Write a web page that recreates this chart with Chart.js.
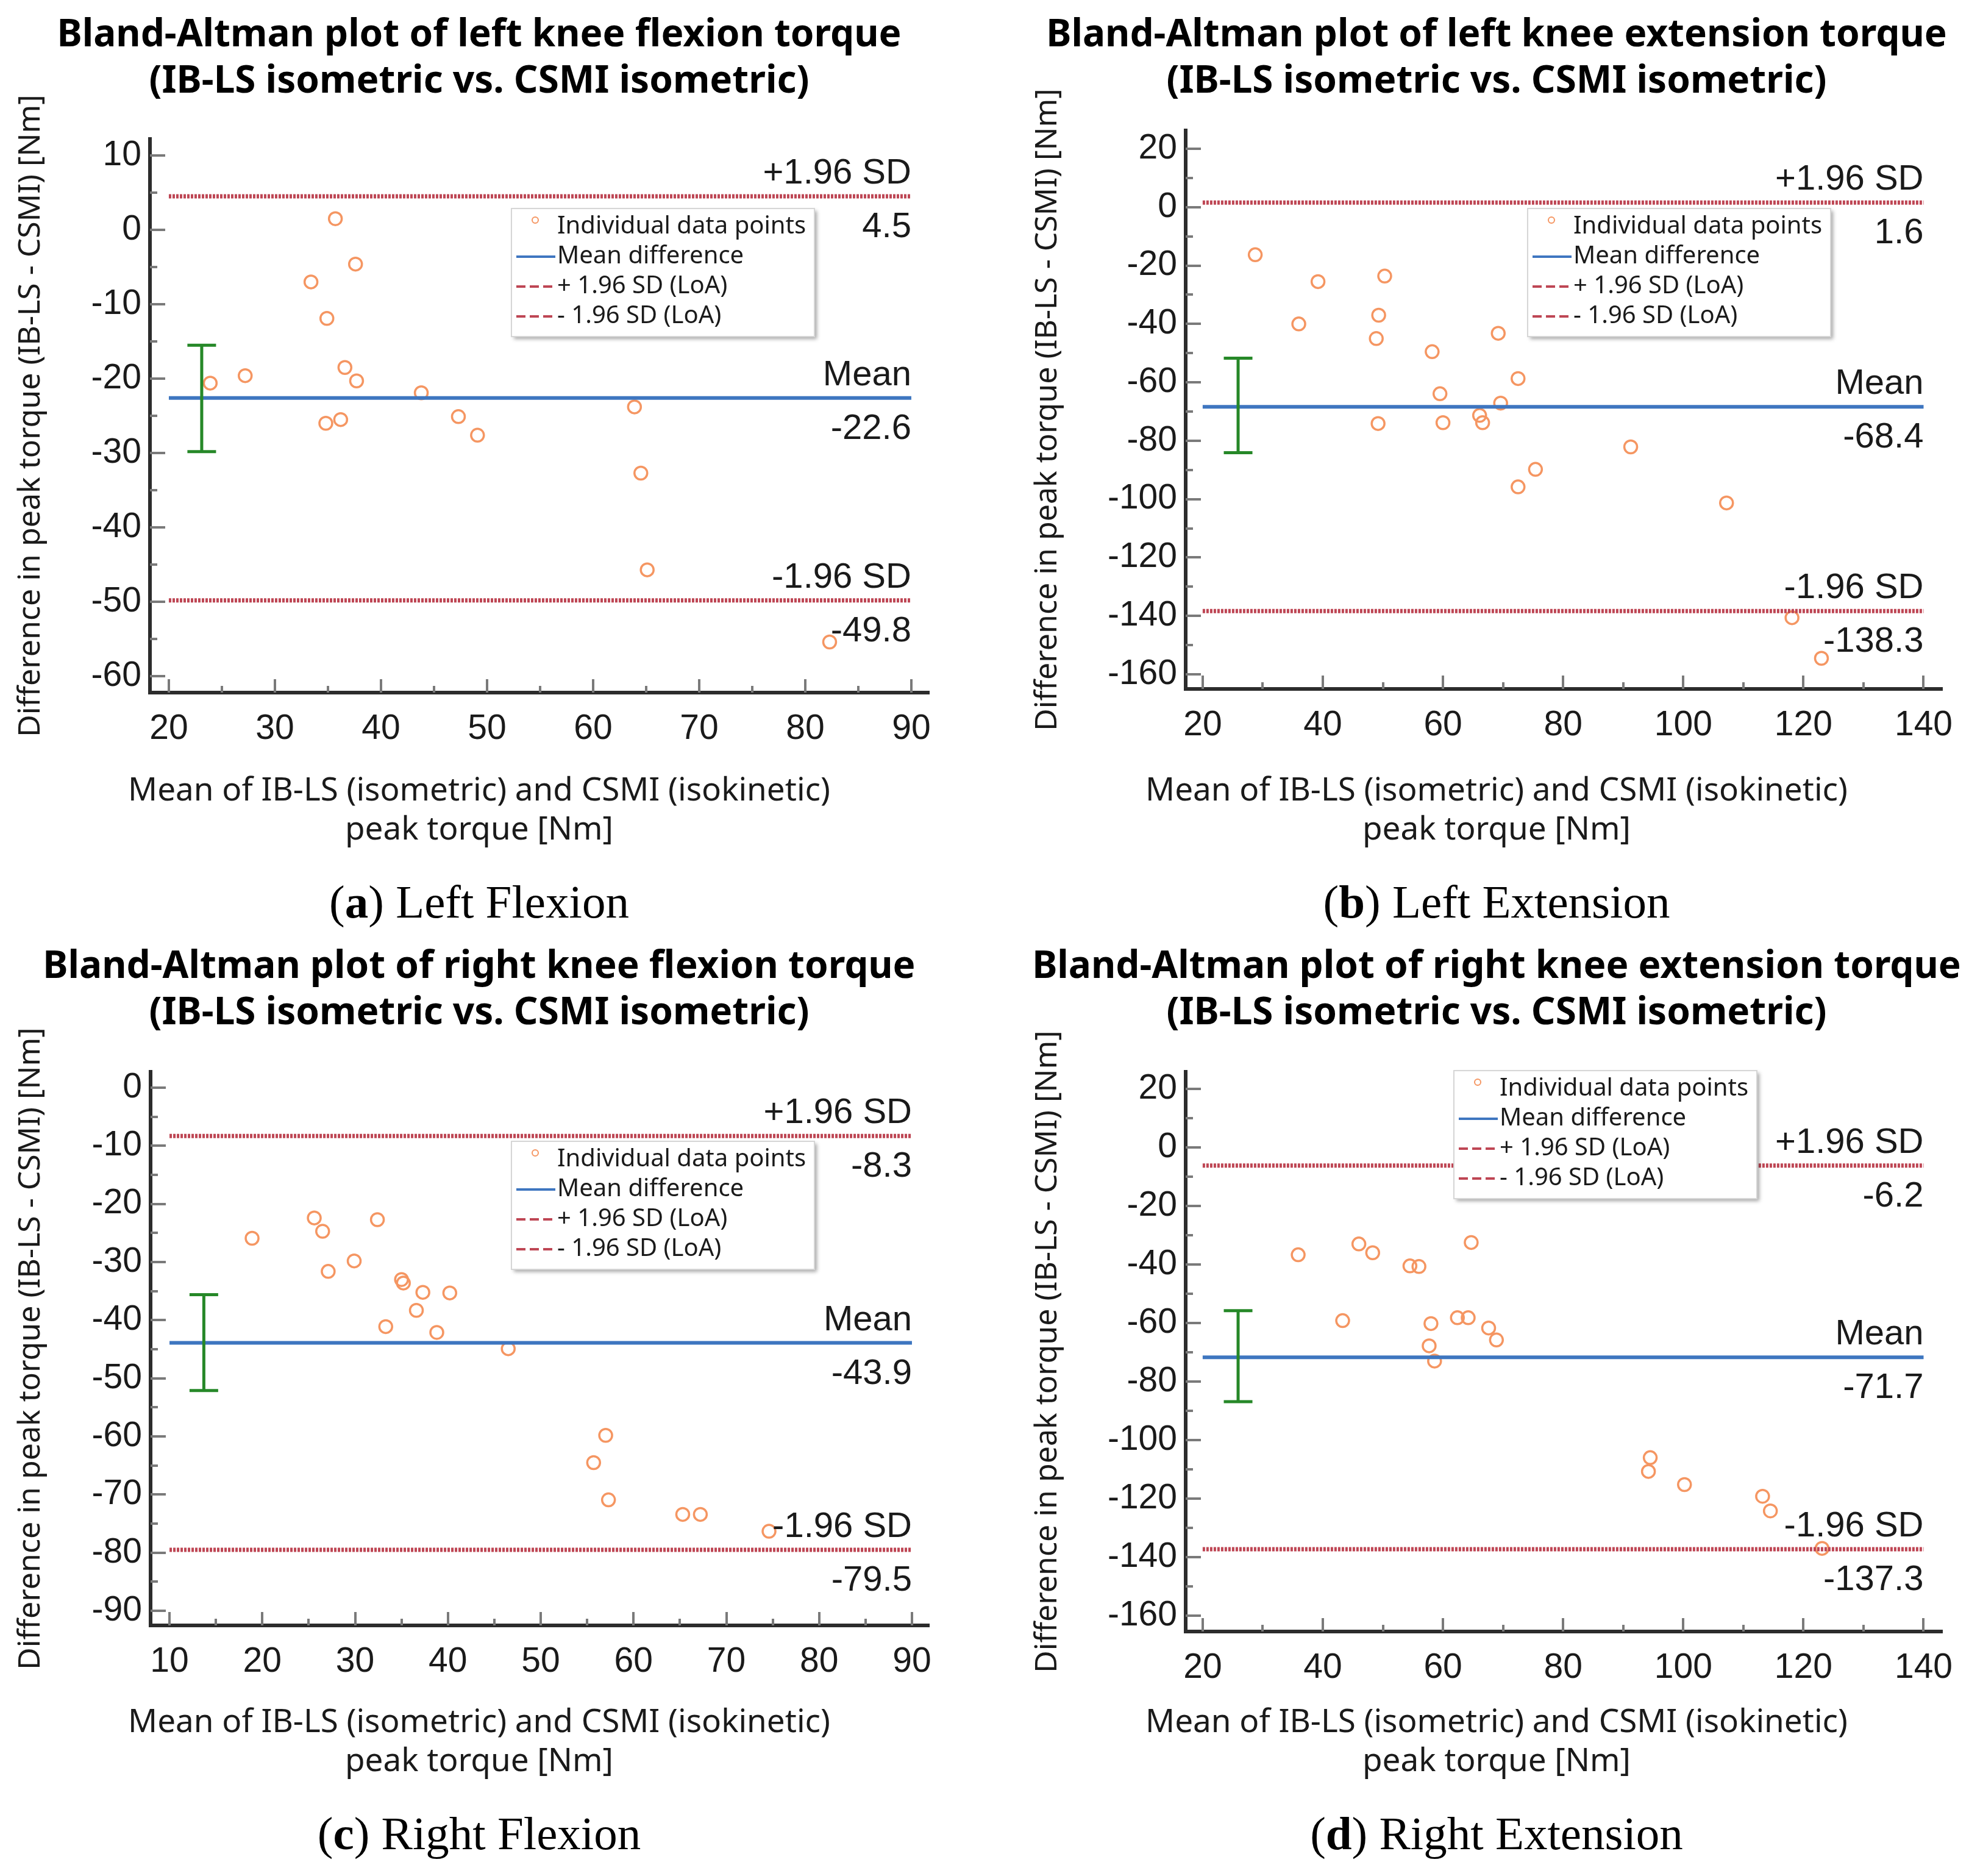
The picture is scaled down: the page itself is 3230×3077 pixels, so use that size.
<!DOCTYPE html>
<html>
<head>
<meta charset="utf-8">
<script src="https://cdn.jsdelivr.net/npm/chart.js@4.4.1/dist/chart.umd.min.js"></script>
<style>
html,body{margin:0;padding:0;background:#fff;}
body{width:3230px;height:3077px;position:relative;overflow:hidden;}
canvas{position:absolute;}
.cap{position:absolute;font-family:"Liberation Serif",serif;font-size:77px;color:#000;white-space:nowrap;line-height:1;transform:translate(-50%,-50%);}
</style>
</head>
<body>
<canvas id="ca" width="1572" height="1410" style="left:0px;top:0px;width:1572px;height:1410px"></canvas>
<canvas id="cb" width="1550" height="1410" style="left:1680px;top:0px;width:1550px;height:1410px"></canvas>
<canvas id="cc" width="1572" height="1410" style="left:0px;top:1528px;width:1572px;height:1410px"></canvas>
<canvas id="cd" width="1550" height="1410" style="left:1680px;top:1528px;width:1550px;height:1410px"></canvas>
<div class="cap" style="left:786px;top:1479px">(<b>a</b>) Left Flexion</div>
<div class="cap" style="left:2455px;top:1479px">(<b>b</b>) Left Extension</div>
<div class="cap" style="left:786px;top:3007px">(<b>c</b>) Right Flexion</div>
<div class="cap" style="left:2455px;top:3007px">(<b>d</b>) Right Extension</div>
<script>
// ---------- data ----------
// (a) left knee flexion
const aX = [23.9, 27.2, 33.4, 35.7, 34.9, 37.6, 36.6, 37.7, 34.8, 36.2, 43.8, 47.3, 49.1, 63.9, 64.5, 65.1, 82.3];
const aY = [-20.6, -19.6, -7.0, 1.5, -11.9, -4.6, -18.5, -20.3, -26.0, -25.5, -21.9, -25.1, -27.6, -23.8, -32.7, -45.7, -55.4];
const aLines = [4.5, -22.6, -49.8];          // +1.96 SD, mean, -1.96 SD
const aCI = [23.1, -15.5, -29.8];            // x, upper, lower (95% CI of mean)
const aXTicks = [20, 30, 40, 50, 60, 70, 80, 90];
const aYTicks = [10, 0, -10, -20, -30, -40, -50, -60];

// (b) left knee extension
const bX = [28.75, 39.2, 36.0, 50.3, 49.3, 48.9, 49.2, 58.2, 59.5, 60.0, 66.1, 66.6, 69.6, 69.2, 72.5, 72.5, 75.4, 91.25, 107.2, 118.1, 123.0];
const bY = [-16.3, -25.5, -40.0, -23.6, -37.0, -45.0, -74.1, -49.5, -63.9, -73.8, -71.3, -73.8, -67.1, -43.2, -58.7, -95.8, -89.8, -82.1, -101.3, -140.6, -154.5];
const bLines = [1.6, -68.4, -138.3];
const bCI = [25.9, -51.7, -84.1];
const bXTicks = [20, 40, 60, 80, 100, 120, 140];
const bYTicks = [20, 0, -20, -40, -60, -80, -100, -120, -140, -160];

// (c) right knee flexion
const cX = [18.9, 25.6, 26.5, 27.1, 32.4, 29.9, 35.0, 35.2, 33.3, 37.3, 36.6, 40.2, 38.8, 46.5, 55.7, 57.0, 57.3, 65.3, 67.2, 74.6];
const cY = [-25.9, -22.4, -24.7, -31.6, -22.7, -29.8, -33.0, -33.6, -41.1, -35.2, -38.3, -35.3, -42.1, -44.9, -64.5, -59.8, -70.9, -73.4, -73.4, -76.3];
const cLines = [-8.3, -43.9, -79.5];
const cCI = [13.7, -35.6, -52.1];
const cXTicks = [10, 20, 30, 40, 50, 60, 70, 80, 90];
const cYTicks = [0, -10, -20, -30, -40, -50, -60, -70, -80, -90];

// (d) right knee extension
const dX = [35.9, 46.0, 48.3, 43.3, 54.5, 56.0, 64.7, 58.0, 57.7, 58.6, 62.4, 64.2, 67.6, 68.9, 94.5, 94.2, 100.2, 113.2, 114.5, 123.1];
const dY = [-36.7, -33.0, -36.0, -59.2, -40.5, -40.7, -32.5, -60.2, -67.8, -73.0, -58.2, -58.2, -61.7, -65.8, -106.0, -110.7, -115.2, -119.2, -124.2, -137.0];
const dLines = [-6.2, -71.7, -137.3];
const dCI = [25.9, -55.8, -86.9];
const dXTicks = [20, 40, 60, 80, 100, 120, 140];
const dYTicks = [20, 0, -20, -40, -60, -80, -100, -120, -140, -160];

// ---------- text ----------
const titleA = ['Bland-Altman plot of left knee flexion torque', '(IB-LS isometric vs. CSMI isometric)'];
const titleB = ['Bland-Altman plot of left knee extension torque', '(IB-LS isometric vs. CSMI isometric)'];
const titleC = ['Bland-Altman plot of right knee flexion torque', '(IB-LS isometric vs. CSMI isometric)'];
const titleD = ['Bland-Altman plot of right knee extension torque', '(IB-LS isometric vs. CSMI isometric)'];
const yTitle = 'Difference in peak torque (IB-LS - CSMI) [Nm]';
const xTitle = ['Mean of IB-LS (isometric) and CSMI (isokinetic)', 'peak torque [Nm]'];
const lineLabels = ['+1.96 SD', 'Mean', '-1.96 SD'];
const legendLabels = ['Individual data points', 'Mean difference', '+ 1.96 SD (LoA)', '- 1.96 SD (LoA)'];

// ---------- styles ----------
const ORANGE = 'rgb(245,150,98)';
const BLUE = 'rgb(62,118,192)';
const RED = 'rgb(190,70,84)';
const GREEN = 'rgb(38,136,40)';
const AXIS = '#2c2c2c';
const TICK = '#7a7a7a';
const TXT = '#1a1a1a';

const baPlugin = {
  id: 'ba',
  beforeDatasetsDraw(chart, args, o) {
    const {ctx, chartArea: ca} = chart;
    const xs = chart.scales.x, ys = chart.scales.y;
    ctx.save();
    ctx.strokeStyle = TICK;
    ctx.lineWidth = 4;
    ctx.beginPath();
    const xt = o.xTicks, yt = o.yTicks;
    const nx = Math.round((xt[xt.length - 1] - xt[0]) / o.xMinor);
    for (let i = 0; i <= nx; i++) {
      const v = xt[0] + i * o.xMinor;
      const major = xt.some(t => Math.abs(t - v) < 1e-6);
      const px = Math.round(xs.getPixelForValue(v));
      ctx.moveTo(px, ca.bottom);
      ctx.lineTo(px, ca.bottom - (major ? 22 : 11));
    }
    const ny = Math.round((yt[0] - yt[yt.length - 1]) / o.yMinor);
    for (let i = 0; i <= ny; i++) {
      const v = yt[yt.length - 1] + i * o.yMinor;
      const major = yt.some(t => Math.abs(t - v) < 1e-6);
      const py = Math.round(ys.getPixelForValue(v));
      ctx.moveTo(ca.left, py);
      ctx.lineTo(ca.left + (major ? 25 : 12), py);
    }
    ctx.stroke();
    ctx.restore();
  },
  afterDatasetsDraw(chart, args, o) {
    const {ctx, chartArea: ca} = chart;
    const xs = chart.scales.x, ys = chart.scales.y;
    ctx.save();
    // legend box
    const L = ca.left + o.legend.dx, T = ca.top + o.legend.dy, W = 497, H = 210;
    ctx.save();
    ctx.shadowColor = 'rgba(0,0,0,0.35)';
    ctx.shadowBlur = 6;
    ctx.shadowOffsetX = 4;
    ctx.shadowOffsetY = 4;
    ctx.fillStyle = '#fff';
    ctx.fillRect(L, T, W, H);
    ctx.restore();
    ctx.strokeStyle = '#d6d6d6';
    ctx.lineWidth = 2;
    ctx.strokeRect(L, T, W, H);
    ctx.font = '40px "Noto Sans"';
    ctx.fillStyle = TXT;
    ctx.textAlign = 'left';
    ctx.textBaseline = 'middle';
    legendLabels.forEach((lab, i) => {
      const ry = T + 30 + i * 49;
      ctx.save();
      if (i === 0) {
        ctx.strokeStyle = ORANGE; ctx.lineWidth = 2;
        ctx.beginPath(); ctx.arc(L + 39, ry - 11, 5, 0, Math.PI * 2); ctx.stroke();
      } else {
        ctx.strokeStyle = i === 1 ? BLUE : RED;
        ctx.lineWidth = 4;
        ctx.setLineDash(i === 1 ? [] : [15, 7]);
        ctx.beginPath(); ctx.moveTo(L + 8, ry); ctx.lineTo(L + 72, ry); ctx.stroke();
      }
      ctx.restore();
      ctx.fillText(lab, L + 75, ry);
    });
    // line annotations
    const xr = xs.getPixelForValue(o.xTicks[o.xTicks.length - 1]);
    ctx.font = '58px "Liberation Sans"';
    ctx.fillStyle = TXT;
    ctx.textAlign = 'right';
    ctx.textBaseline = 'alphabetic';
    o.lines.forEach((v, i) => {
      const py = ys.getPixelForValue(v);
      ctx.fillText(lineLabels[i], xr, py - 21);
      ctx.fillText(String(v), xr, py + 67);
    });
    ctx.restore();
  }
};

function makeChart(id, p) {
  const pts = p.xs.map((x, i) => ({x: x, y: p.ys[i]}));
  const x0 = p.xTicks[0], x1 = p.xTicks[p.xTicks.length - 1];
  const hline = v => [{x: x0, y: v}, {x: x1, y: v}];
  const tickFont = {family: '"Liberation Sans"', size: 57};
  new Chart(document.getElementById(id), {
    type: 'scatter',
    data: {
      datasets: [
        {label: 'CI', data: [{x: p.ci[0], y: p.ci[1]}, {x: p.ci[0], y: p.ci[2]}], showLine: true,
         borderColor: GREEN, borderWidth: 5, pointStyle: 'line', pointRadius: 23.5, pointHoverRadius: 23.5,
         pointBorderWidth: 5, pointBorderColor: GREEN},
        {label: 'Mean difference', data: hline(p.lines[1]), showLine: true, borderColor: BLUE, borderWidth: 6, pointRadius: 0},
        {label: '+ 1.96 SD (LoA)', data: hline(p.lines[0]), showLine: true, borderColor: RED, borderWidth: 7, borderDash: [4, 2], pointRadius: 0},
        {label: '- 1.96 SD (LoA)', data: hline(p.lines[2]), showLine: true, borderColor: RED, borderWidth: 7, borderDash: [4, 2], pointRadius: 0},
        {label: 'Individual data points', data: pts, pointStyle: 'circle', pointRadius: 10.5, pointHoverRadius: 10.5,
         pointBorderWidth: 3.5, pointBorderColor: ORANGE, pointBackgroundColor: 'rgba(0,0,0,0)'}
      ]
    },
    options: {
      responsive: false, animation: false, devicePixelRatio: 1, events: [],
      layout: {padding: 0},
      plugins: {
        legend: {display: false},
        tooltip: {enabled: false},
        title: {display: true, text: p.title, color: '#000',
                font: {family: '"Noto Sans"', size: 62, weight: 'bold', lineHeight: 1.226},
                padding: {top: 20, bottom: p.titlePadB}},
        subtitle: {display: true, position: 'bottom', text: xTitle, color: TXT,
                   font: {family: '"Noto Sans"', size: 53, lineHeight: 1.2075},
                   padding: {top: 0, bottom: 16}},
        ba: {xTicks: p.xTicks, yTicks: p.yTicks, xMinor: p.xMinor, yMinor: p.yMinor, lines: p.lines, legend: p.legend}
      },
      scales: {
        x: {type: 'linear', position: 'bottom', min: p.xMin, max: p.xMax,
            afterBuildTicks: s => { s.ticks = p.xTicks.map(v => ({value: v})); },
            afterFit: s => { s.height = p.xH; },
            grid: {display: false, drawTicks: false},
            border: {display: true, color: AXIS, width: 6},
            ticks: {padding: 26, color: TXT, font: tickFont}},
        y: {type: 'linear', position: 'left', min: p.yMin, max: p.yMax,
            afterBuildTicks: s => { s.ticks = p.yTicks.map(v => ({value: v})); },
            afterFit: s => { s.width = p.yW; },
            grid: {display: false, drawTicks: false},
            border: {display: true, color: AXIS, width: 6},
            ticks: {padding: 14, color: TXT, font: tickFont},
            title: {display: true, text: yTitle, color: TXT,
                    font: {family: '"Noto Sans"', size: 50, lineHeight: 1.2},
                    padding: {top: p.yTitlePad, bottom: 0}}},
        yR: {type: 'linear', position: 'right', display: true,
             grid: {display: false, drawTicks: false}, border: {display: false},
             ticks: {display: false},
             afterFit: s => { s.width = p.rW; }}
      }
    },
    plugins: [baPlugin]
  });
}

makeChart('ca', {xs: aX, ys: aY, lines: aLines, ci: aCI, xTicks: aXTicks, yTicks: aYTicks, title: titleA,
  xMin: 18.22, xMax: 91.67, yMin: -62.2, yMax: 12.21, xMinor: 5, yMinor: 5,
  yW: 246, rW: 48, xH: 130, titlePadB: 56, yTitlePad: 21, legend: {dx: 593, dy: 114}});
makeChart('cb', {xs: bX, ys: bY, lines: bLines, ci: bCI, xTicks: bXTicks, yTicks: bYTicks, title: titleB,
  xMin: 17.17, xMax: 143.13, yMin: -165.0, yMax: 26.26, xMinor: 10, yMinor: 10,
  yW: 265, rW: 39, xH: 136, titlePadB: 42, yTitlePad: 9, legend: {dx: 561, dy: 128}});
makeChart('cc', {xs: cX, ys: cY, lines: cLines, ci: cCI, xTicks: cXTicks, yTicks: cYTicks, title: titleC,
  xMin: 7.96, xMax: 91.84, yMin: -92.5, yMax: 2.73, xMinor: 5, yMinor: 5,
  yW: 247, rW: 48, xH: 128, titlePadB: 58, yTitlePad: 21, legend: {dx: 592, dy: 114}});
makeChart('cd', {xs: dX, ys: dY, lines: dLines, ci: dCI, xTicks: dXTicks, yTicks: dYTicks, title: titleD,
  xMin: 17.17, xMax: 143.13, yMin: -165.4, yMax: 25.8, xMinor: 10, yMinor: 10,
  yW: 265, rW: 39, xH: 118, titlePadB: 58, yTitlePad: 9, legend: {dx: 440, dy: -2}});
</script>
</body>
</html>
